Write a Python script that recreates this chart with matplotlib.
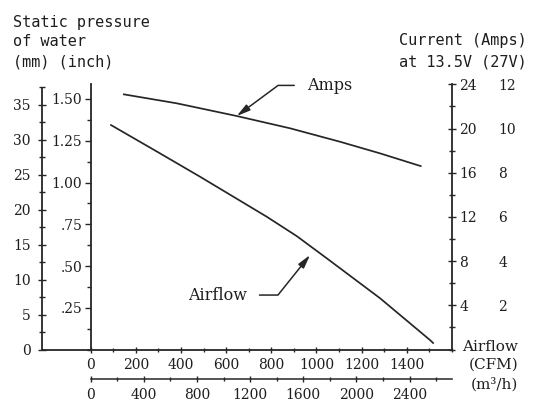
import matplotlib
matplotlib.use('Agg')
import matplotlib.pyplot as plt
from matplotlib.ticker import FixedLocator, MultipleLocator, NullLocator

# ---------------- data ----------------
airflow_cfm = [90, 300, 484, 780, 913, 1046, 1282, 1503, 1517]
airflow_pressure_in = [1.344, 1.18, 1.035, 0.795, 0.679, 0.546, 0.307, 0.057, 0.039]

amps_cfm = [147, 381, 647, 883, 1105, 1282, 1462]
amps_current = [23.09, 22.28, 21.13, 20.02, 18.8, 17.75, 16.6]

cfm_ticks = [0, 200, 400, 600, 800, 1000, 1200, 1400]
m3h_ticks = [0, 400, 800, 1200, 1600, 2000, 2400]
inch_ticks = [0.25, 0.5, 0.75, 1.0, 1.25, 1.5]
inch_labels = ['.25', '.50', '.75', '1.00', '1.25', '1.50']
mm_ticks = [0, 5, 10, 15, 20, 25, 30, 35]
amp_ticks = [4, 8, 12, 16, 20, 24]
amp27_ticks = [2, 4, 6, 8, 10, 12]

CFM_TO_M3H = 1.699
MM_PER_INCH_AS_DRAWN = 23.86

# ---------------- layout ----------------
W, H = 543, 403
X0, X1 = 90.7, 452.3      # left / right spine (px)
YT, YB = 84.0, 349.5      # top / bottom (px)
XMM = 41.7
PX_PER_CFM = 0.2257
PX_PER_INCH = 167.0
PX_PER_AMP = 11.05

INK = '#262626'
TXT = '#1e1e1e'
SERIF = 'DejaVu Serif'
MONO = 'DejaVu Sans Mono'

fig = plt.figure(figsize=(W / 100, H / 100), dpi=100)
fig.patch.set_facecolor('white')

rect = [X0 / W, 1 - YB / H, (X1 - X0) / W, (YB - YT) / H]
ax = fig.add_axes(rect)
ax.set_xlim(0, (X1 - X0) / PX_PER_CFM)
ax.set_ylim(0, (YB - YT) / PX_PER_INCH)
ax.patch.set_visible(False)

for s in ['top', 'right']:
    ax.spines[s].set_visible(False)
for s in ['left', 'bottom']:
    ax.spines[s].set_linewidth(1.3)
    ax.spines[s].set_color(INK)

# x axis (CFM)
ax.xaxis.set_major_locator(FixedLocator(cfm_ticks))
ax.xaxis.set_minor_locator(MultipleLocator(100))
ax.tick_params(axis='x', which='major', direction='inout', length=4, width=1,
               color=INK, pad=4, labelsize=10, labelcolor=TXT)
ax.tick_params(axis='x', which='minor', direction='inout', length=3, width=1, color=INK)
for lab in ax.get_xticklabels():
    lab.set_family(SERIF)

# left inch axis
ax.yaxis.set_major_locator(FixedLocator(inch_ticks))
ax.set_yticklabels(inch_labels)
ax.yaxis.set_minor_locator(MultipleLocator(0.125))
ax.tick_params(axis='y', which='major', direction='out', length=4, width=1,
               color=INK, pad=2, labelsize=10, labelcolor=TXT)
ax.tick_params(axis='y', which='minor', direction='out', length=3, width=1, color=INK)
for lab in ax.get_yticklabels():
    lab.set_family(SERIF)

# Airflow curve
ax.plot(airflow_cfm, airflow_pressure_in, color=INK, lw=1.25, solid_joinstyle='round')

# secondary x axis (m3/h)
sec = ax.secondary_xaxis(-(379 - YB) / (YB - YT),
                         functions=(lambda c: c * CFM_TO_M3H, lambda m: m / CFM_TO_M3H))
sec.xaxis.set_major_locator(FixedLocator(m3h_ticks))
sec.xaxis.set_minor_locator(MultipleLocator(200))
sec.spines['bottom'].set_linewidth(1.1)
sec.spines['bottom'].set_color(INK)
sec.tick_params(axis='x', which='major', direction='inout', length=4, width=1,
                color=INK, pad=4.5, labelsize=10, labelcolor=TXT)
sec.tick_params(axis='x', which='minor', direction='inout', length=3, width=1, color=INK)
for lab in sec.get_xticklabels():
    lab.set_family(SERIF)

# right amps axis
ax_r = ax.twinx()
ax_r.set_ylim(0, (YB - YT) / PX_PER_AMP)
for s in ['top', 'left', 'bottom']:
    ax_r.spines[s].set_visible(False)
ax_r.spines['right'].set_linewidth(1.3)
ax_r.spines['right'].set_color(INK)
ax_r.yaxis.set_major_locator(FixedLocator(amp_ticks))
ax_r.yaxis.set_minor_locator(MultipleLocator(2))
ax_r.tick_params(axis='y', which='major', direction='inout', length=6, width=1,
                 color=INK, pad=2, labelsize=10, labelcolor=TXT)
ax_r.tick_params(axis='y', which='minor', direction='inout', length=5, width=1, color=INK)
for lab in ax_r.get_yticklabels():
    lab.set_family(SERIF)

ax_r.plot(amps_cfm, amps_current, color=INK, lw=1.25, solid_joinstyle='round')

# 27 V column
sec27 = ax_r.secondary_yaxis('right', functions=(lambda a: a / 2, lambda v: v * 2))
sec27.yaxis.set_major_locator(FixedLocator(amp27_ticks))
sec27.yaxis.set_minor_locator(NullLocator())
sec27.spines['right'].set_visible(False)
sec27.tick_params(axis='y', which='major', length=0, pad=33, labelsize=10, labelcolor=TXT)
for lab in sec27.get_yticklabels():
    lab.set_family(SERIF)

# mm axis on the far left
ax_mm = fig.add_axes([XMM / W, 1 - YB / H, (X0 - XMM) / W, (YB - YT) / H])
ax_mm.set_ylim(0, (YB - YT) / PX_PER_INCH * MM_PER_INCH_AS_DRAWN)
ax_mm.patch.set_visible(False)
for s in ['top', 'right']:
    ax_mm.spines[s].set_visible(False)
ax_mm.spines['left'].set_bounds(0, 37.4)
for s in ['left', 'bottom']:
    ax_mm.spines[s].set_linewidth(1.3)
    ax_mm.spines[s].set_color(INK)
ax_mm.set_xticks([])
ax_mm.yaxis.set_major_locator(FixedLocator(mm_ticks))
ax_mm.yaxis.set_minor_locator(MultipleLocator(2.5))
ax_mm.tick_params(axis='y', which='major', direction='inout', length=6, width=1,
                  color=INK, pad=5, labelsize=10, labelcolor=TXT)
ax_mm.tick_params(axis='y', which='minor', direction='inout', length=4, width=1, color=INK)
for lab in ax_mm.get_yticklabels():
    lab.set_family(SERIF)

# ---------------- annotations ----------------
amps_text_pos = (957, 23.9)
amps_arrow_tip = (647, 21.13)
ax_r.annotate('Amps', xy=amps_arrow_tip, xytext=amps_text_pos,
              ha='left', va='center', family=SERIF, size=11.5, color=TXT,
              arrowprops=dict(arrowstyle='-|>,head_length=0.7,head_width=0.18',
                              color=INK, lw=1.1, shrinkA=7, shrinkB=0,
                              relpos=(0, 0.5),
                              connectionstyle='angle,angleA=0,angleB=36.5,rad=0'))

airflow_text_pos = (431, 0.326)
airflow_arrow_tip = (972, 0.566)
ax.annotate('Airflow', xy=airflow_arrow_tip, xytext=airflow_text_pos,
            ha='left', va='center', family=SERIF, size=11.5, color=TXT,
            arrowprops=dict(arrowstyle='-|>,head_length=0.7,head_width=0.18',
                            color=INK, lw=1.1, shrinkA=7, shrinkB=0,
                            relpos=(1, 0.5),
                            connectionstyle='angle,angleA=0,angleB=51.3,rad=0'))

# ---------------- axis titles ----------------
def ftxt(px, py, s, **kw):
    fig.text(px / W, 1 - py / H, s, color=TXT, va='center', **kw)

ftxt(13, 22, 'Static pressure', ha='left', family=MONO, size=11)
ftxt(13, 42, 'of water', ha='left', family=MONO, size=11)
ftxt(13, 62, '(mm) (inch)', ha='left', family=MONO, size=11)

ftxt(399, 40, 'Current (Amps)', ha='left', family=MONO, size=11)
ftxt(399, 62, 'at 13.5V (27V)', ha='left', family=MONO, size=11)

ftxt(518, 347, 'Airflow', ha='right', family=SERIF, size=11)
ftxt(518, 365, '(CFM)', ha='right', family=SERIF, size=11)
ftxt(518, 384, '(m³/h)', ha='right', family=SERIF, size=11)

fig.savefig('out.png', dpi=100, facecolor='white')
